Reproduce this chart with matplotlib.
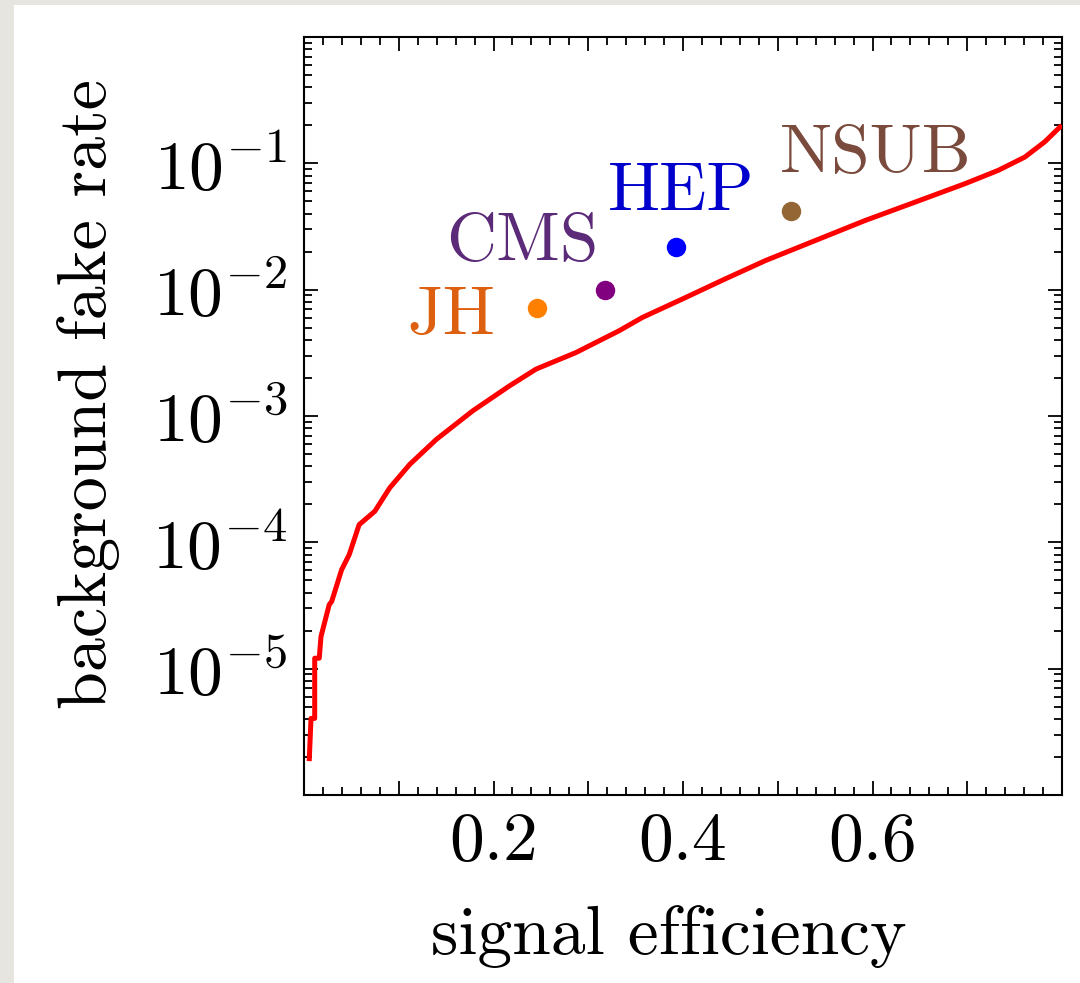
import numpy as np
import matplotlib
matplotlib.use("Agg")
import matplotlib.pyplot as plt
from matplotlib.ticker import MultipleLocator, FuncFormatter, LogLocator, NullFormatter
from matplotlib.patches import Rectangle

# ROC curve
eff = [0.0056, 0.0074, 0.0113, 0.0113, 0.0161, 0.0179, 0.0266, 0.0292, 0.0397,
       0.0477, 0.0582, 0.0747, 0.0905, 0.1116, 0.1397, 0.1782, 0.2168, 0.2449,
       0.2871, 0.3326, 0.3572, 0.3993, 0.4449, 0.4871, 0.5397, 0.5923, 0.6449,
       0.6976, 0.7326, 0.7607, 0.7818, 0.7979]
fake = [1.94e-6, 4.04e-6, 4.04e-6, 1.21e-5, 1.21e-5, 1.79e-5, 3.21e-5, 3.40e-5, 6.07e-5,
        7.98e-5, 1.38e-4, 1.76e-4, 2.70e-4, 4.14e-4, 6.53e-4, 1.10e-3, 1.73e-3, 2.35e-3,
        3.18e-3, 4.73e-3, 6.03e-3, 8.43e-3, 1.22e-2, 1.70e-2, 2.45e-2, 3.53e-2, 4.93e-2,
        6.90e-2, 8.79e-2, 0.112, 0.148, 0.194]

# taggers
tag_names = ["JH", "CMS", "HEP", "NSUB"]
tag_eff = [0.246, 0.318, 0.393, 0.514]
tag_fake = [7.1e-3, 1.0e-2, 2.19e-2, 4.16e-2]
tag_dot_col = ["#ff8000", "#800080", "#0000ff", "#946633"]
tag_txt_col = ["#dd6010", "#5b2a78", "#0000cc", "#7a4a3c"]
# label anchor (center, baseline)
lab_x = [0.155, 0.230, 0.398, 0.603]
lab_y = [4.48e-3, 1.73e-2, 4.24e-2, 8.53e-2]

plt.rcParams["font.family"] = "serif"
plt.rcParams["font.serif"] = ["cmr10"]
plt.rcParams["mathtext.fontset"] = "cm"
plt.rcParams["axes.unicode_minus"] = False
plt.rcParams["axes.formatter.use_mathtext"] = True

fig = plt.figure(figsize=(10.8, 9.83), dpi=100)
fig.patch.set_facecolor("#e6e5df")
# white page on the grey screenshot border
fig.patches.append(Rectangle((14 / 1080, 0), 1, 1 - 5 / 983, transform=fig.transFigure,
                             facecolor="white", edgecolor="none", zorder=-10))
ax = fig.add_axes([304 / 1080, 1 - 795 / 983, 758 / 1080, 758 / 983])
ax.set_zorder(5)

ax.plot(eff, fake, color="red", lw=3.6, solid_joinstyle="round", zorder=3)
for i in range(len(tag_names)):
    ax.plot(tag_eff[i], tag_fake[i], "o", color=tag_dot_col[i], ms=14, mec="none", zorder=4)
    ax.text(lab_x[i], lab_y[i], tag_names[i], color=tag_txt_col[i], fontsize=50,
            ha="center", va="baseline")

ax.set_yscale("log")
ax.set_xlim(0, 0.8)
ax.set_ylim(1e-6, 1)
ax.set_yticks([1e-5, 1e-4, 1e-3, 1e-2, 1e-1])
ax.yaxis.set_minor_locator(LogLocator(base=10, subs=np.arange(2, 10), numticks=20))
ax.yaxis.set_minor_formatter(NullFormatter())
ax.xaxis.set_major_locator(MultipleLocator(0.1))
ax.xaxis.set_minor_locator(MultipleLocator(0.02))
ax.xaxis.set_major_formatter(FuncFormatter(
    lambda v, p: "%.1f" % v if round(v * 10) in (2, 4, 6) else ""))

ax.tick_params(which="both", direction="in", top=True, right=True, width=1.3,
               labelsize=50, colors="black")
ax.tick_params(which="major", length=10, pad=12)
ax.tick_params(which="minor", length=5.5)
for s in ax.spines.values():
    s.set_linewidth(1.5)

ax.set_xlabel("signal efficiency", fontsize=50)
ax.set_ylabel("background fake rate", fontsize=49)
ax.xaxis.set_label_coords(0.4815, -0.145)
ax.yaxis.set_label_coords(-0.243, 0.529)

fig.savefig("out.png", dpi=100, facecolor=fig.get_facecolor())
